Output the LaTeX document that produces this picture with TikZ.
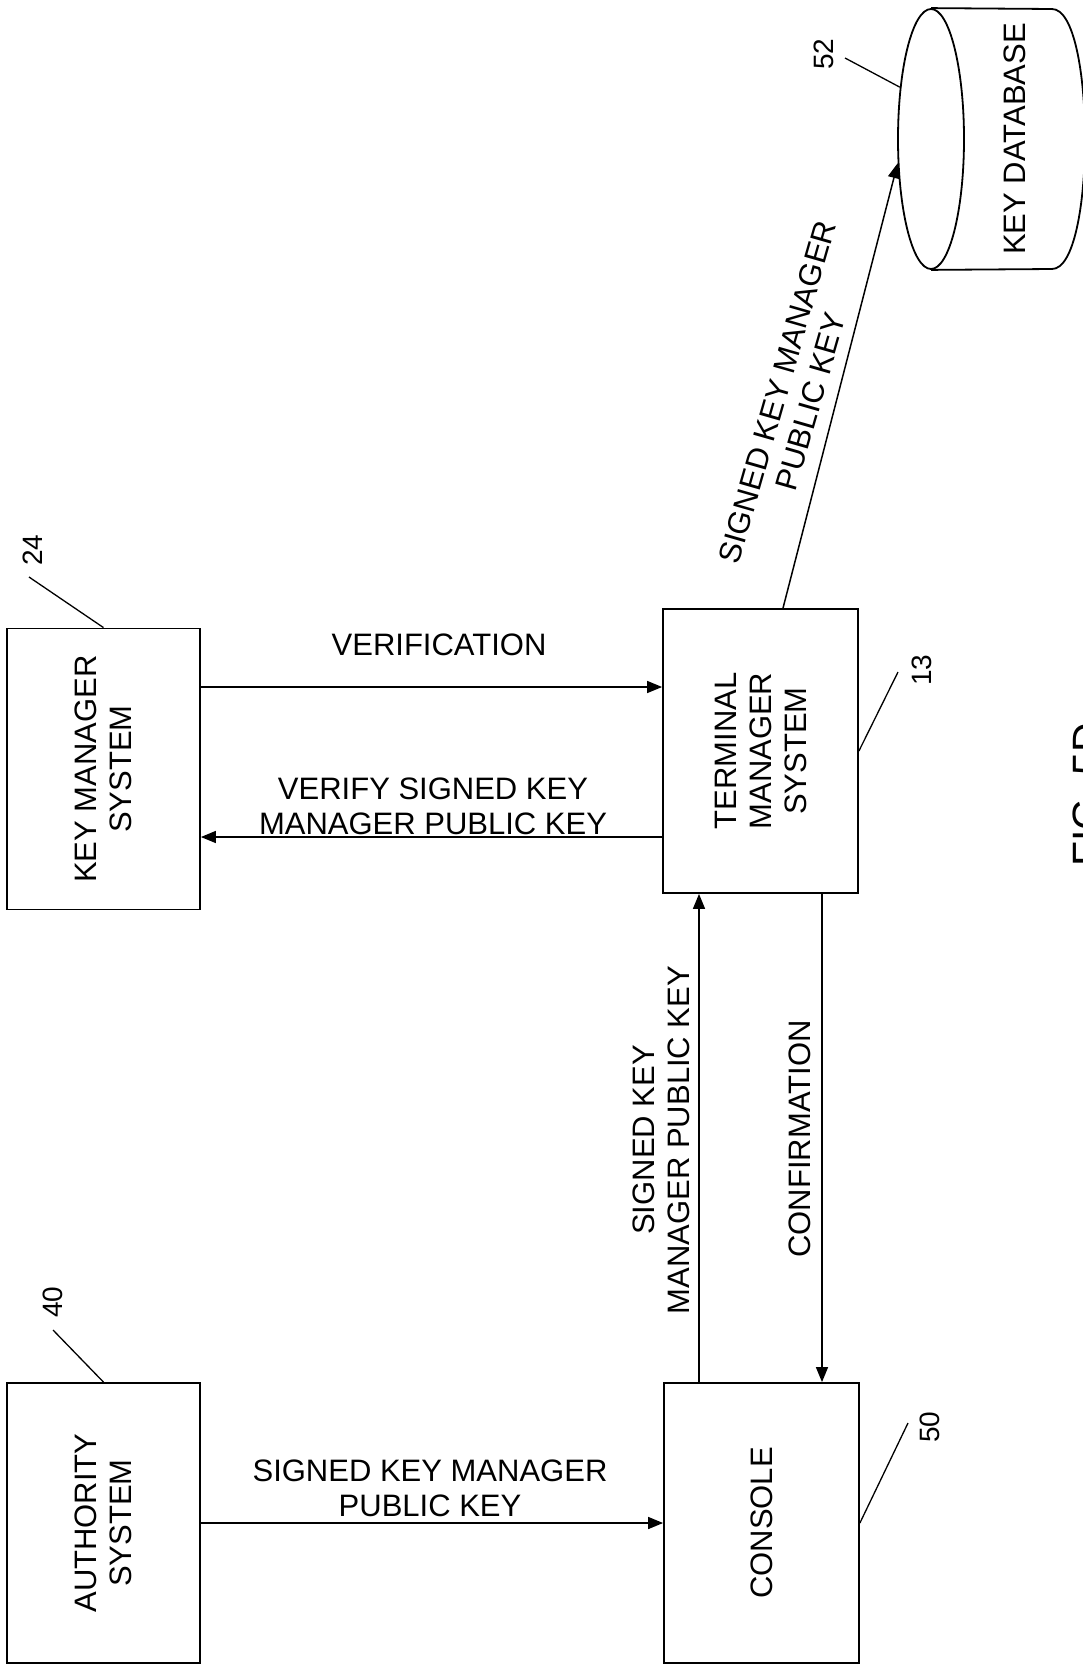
\documentclass[tikz,border=0pt]{standalone}
\usepackage{fontspec}
\setmainfont{Liberation Sans}
\usetikzlibrary{arrows.meta,shapes.geometric}
\tikzset{
  >={Triangle[length=15pt,width=12pt]},
  every node/.style={font=\fontsize{31}{35}\selectfont},
  box/.style={draw,line width=1.8pt,minimum width=193pt,minimum height=281pt,inner sep=0pt},
  boxtext/.style={rotate=90,align=center,inner sep=0pt},
  lbl/.style={align=center,inner sep=0pt},
  refnum/.style={rotate=90,font=\fontsize{28}{30}\selectfont,inner sep=0pt},
  dbase/.style={draw,ellipse,line width=1.8pt,minimum width=66pt,minimum height=260pt,inner sep=0pt},
  arrow/.style={->,line width=1.5pt},
  leader/.style={line width=1.3pt},
}
\begin{document}
\begin{tikzpicture}[x=1pt,y=-1pt]
  \useasboundingbox (0,0) rectangle (1083,1665);
  \node[box] (km) at (103.5,769) {};
  \node[boxtext] (kmtext) at (km) {KEY MANAGER\\SYSTEM};
  \node[box,minimum width=195pt,minimum height=284pt] (tms) at (760.5,751) {};
  \node[boxtext] (tmstext) at (tms) {TERMINAL\\MANAGER\\SYSTEM};
  \node[box,minimum height=280pt] (auth) at (103.5,1523) {};
  \node[boxtext] (authtext) at (auth) {AUTHORITY\\SYSTEM};
  \node[box,minimum width=195pt,minimum height=280pt] (con) at (761.5,1523) {};
  \node[boxtext] (context) at (con) {CONSOLE};
  \node[dbase] (db) at (931,139) {};
  \draw[line width=1.8pt] (db.north) -- (1052,9) .. controls (1096,9) and (1096,269) .. (1052,269) -- (db.south);
  \node[boxtext] (dbtext) at (1015,139) {KEY DATABASE};

  \draw[arrow] (km.east |- 0,687) -- (tms.west |- 0,687);
  \draw[arrow] (tms.west |- 0,837) -- (km.east |- 0,837);
  \draw[arrow] (auth.east) -- (con.west);
  \draw[arrow] (con.north -| 699,0) -- (tms.south -| 699,0);
  \draw[arrow] (tms.south -| 822,0) -- (con.north -| 822,0);
  \draw[arrow] (tms.north -| 783,0) -- (db.216);

  \node[lbl] (verif) at (439,645) {VERIFICATION};
  \node[lbl] (verify) at (433,806) {VERIFY SIGNED KEY\\MANAGER PUBLIC KEY};
  \node[lbl] (signed) at (430,1488) {SIGNED KEY MANAGER\\PUBLIC KEY};
  \node[lbl,rotate=90] (signedup) at (661,1140) {SIGNED KEY\\MANAGER PUBLIC KEY};
  \node[lbl,rotate=90] (confirm) at (800,1139) {CONFIRMATION};
  \node[lbl,rotate=74] (signeddb) at (794,397) {SIGNED KEY MANAGER\\PUBLIC KEY};

  \node[refnum] (n24) at (33,550) {24};
  \coordinate (l24) at (29,577);
  \draw[leader] (l24) -- (km.north);
  \node[refnum] (n40) at (53,1302) {40};
  \coordinate (l40) at (53,1330);
  \draw[leader] (l40) -- (auth.north);
  \node[refnum] (n13) at (922,670) {13};
  \coordinate (l13) at (898,672);
  \draw[leader] (l13) -- (tms.east);
  \node[refnum] (n50) at (930,1427) {50};
  \coordinate (l50) at (908,1423);
  \draw[leader] (l50) -- (con.east);
  \node[refnum] (n52) at (824,54) {52};
  \coordinate (l52) at (845,58);
  \draw[leader] (l52) -- (db.121);

  \node[rotate=90,anchor=base,font=\fontsize{41}{45}\selectfont,inner sep=0pt] (fig) at (1101,795) {FIG. 5D};
\end{tikzpicture}
\end{document}
